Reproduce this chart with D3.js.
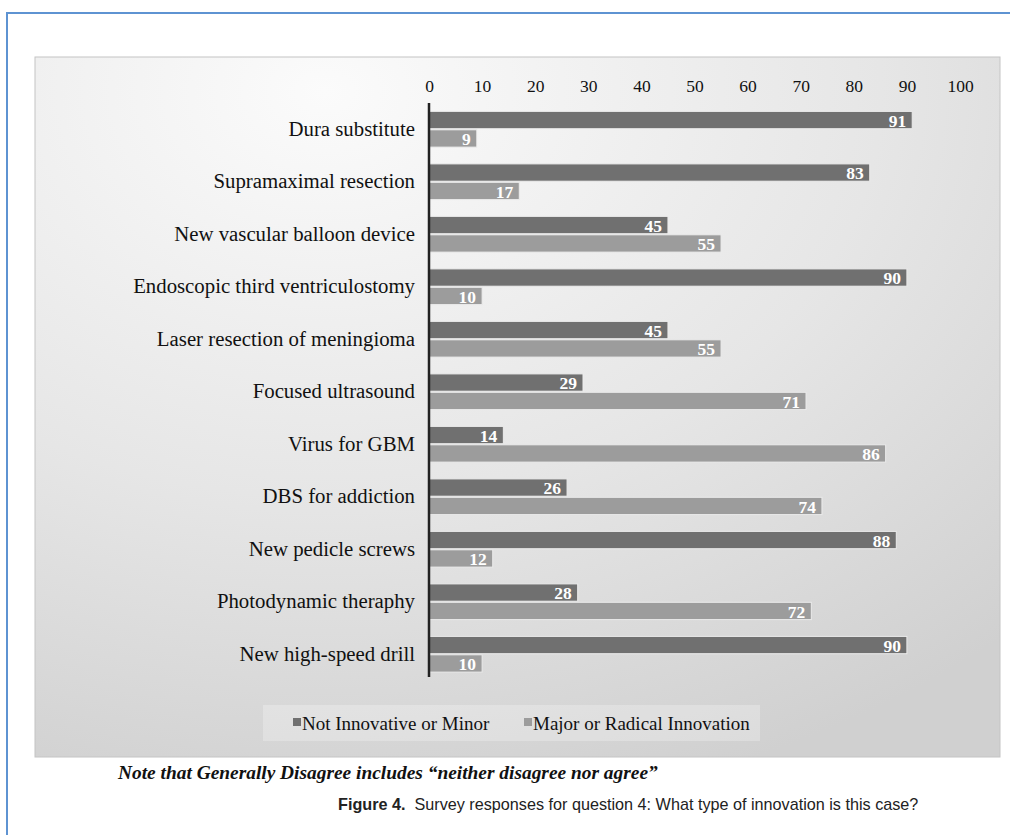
<!DOCTYPE html>
<html>
<head>
<meta charset="utf-8">
<script src="https://cdn.jsdelivr.net/npm/d3@7"></script>
<style>
  body { margin: 0; background: #fff; }
  svg { display: block; }
</style>
</head>
<body>
<svg id="chart" width="1010" height="835"></svg>
<script>
// Chart data.
const categories = [
  'Dura substitute',
  'Supramaximal resection',
  'New vascular balloon device',
  'Endoscopic third ventriculostomy',
  'Laser resection of meningioma',
  'Focused ultrasound',
  'Virus for GBM',
  'DBS for addiction',
  'New pedicle screws',
  'Photodynamic theraphy',
  'New high-speed drill',
];
const notInnovative = [91, 83, 45, 90, 45, 29, 14, 26, 88, 28, 90];
const majorInnovation = [9, 17, 55, 10, 55, 71, 86, 74, 12, 72, 10];
const seriesNames = ['Not Innovative or Minor', 'Major or Radical Innovation'];
const xTicks = [0, 10, 20, 30, 40, 50, 60, 70, 80, 90, 100];

const SERIF = "'Liberation Serif', 'Times New Roman', serif";
const SANS = "'Liberation Sans', Arial, sans-serif";
const colours = ['#707070', '#9c9c9c'];

const svg = d3.select('#chart');

// Gradient for the grey panel background.
const defs = svg.append('defs');
const grad = defs.append('radialGradient')
  .attr('id', 'panel-bg')
  .attr('cx', 0.3).attr('cy', 0.05).attr('r', 1.05);
grad.append('stop').attr('offset', '0%').attr('stop-color', '#fbfbfb');
grad.append('stop').attr('offset', '55%').attr('stop-color', '#e6e6e6');
grad.append('stop').attr('offset', '100%').attr('stop-color', '#d0d0d0');

// Blue page frame (top and left only).
svg.append('line').attr('x1', 6).attr('x2', 1010).attr('y1', 13).attr('y2', 13)
  .attr('stroke', '#5e93d2').attr('stroke-width', 2);
svg.append('line').attr('x1', 7).attr('x2', 7).attr('y1', 12).attr('y2', 835)
  .attr('stroke', '#5e93d2').attr('stroke-width', 2);

// Panel.
const panel = { x: 35, y: 57, w: 965, h: 700 };
svg.append('rect')
  .attr('x', panel.x).attr('y', panel.y)
  .attr('width', panel.w).attr('height', panel.h)
  .attr('fill', 'url(#panel-bg)')
  .attr('stroke', '#c4c4c4');

// Scales.
const x = d3.scaleLinear().domain([0, 100]).range([429, 960]);
const y = d3.scaleBand().domain(categories).range([103, 680.5])
  .paddingInner(0.32).paddingOuter(0.16);
const ySub = d3.scaleBand().domain([0, 1]).range([0, y.bandwidth()]).paddingInner(0.06);

// Top axis: labels only.
const xAxis = svg.append('g')
  .attr('transform', 'translate(0,92)')
  .call(d3.axisTop(x).tickValues(xTicks).tickSize(0).tickPadding(0));
xAxis.select('.domain').remove();
xAxis.selectAll('text')
  .attr('font-family', SERIF).attr('font-size', 17.5).attr('fill', '#111');

// Category labels.
const yAxis = svg.append('g')
  .attr('transform', 'translate(415,0)')
  .call(d3.axisLeft(y).tickSize(0).tickPadding(0));
yAxis.select('.domain').remove();
yAxis.selectAll('text')
  .attr('font-family', SERIF).attr('font-size', 20.8).attr('fill', '#111');

// Bars.
const rows = categories.map((c, i) => ({ c, vals: [notInnovative[i], majorInnovation[i]] }));
const groups = svg.append('g').selectAll('g')
  .data(rows)
  .join('g')
  .attr('transform', (d) => `translate(0,${y(d.c)})`);

const bars = groups.selectAll('g')
  .data((d) => d.vals.map((v, s) => ({ v, s })))
  .join('g');

bars.append('rect')
  .attr('x', x(0))
  .attr('y', (d) => ySub(d.s))
  .attr('width', (d) => x(d.v) - x(0))
  .attr('height', ySub.bandwidth())
  .attr('fill', (d) => colours[d.s])
  .attr('stroke', '#ececec')
  .attr('stroke-width', 1);

bars.append('text')
  .attr('x', (d) => x(d.v) - 6)
  .attr('y', (d) => ySub(d.s) + ySub.bandwidth() / 2)
  .attr('dy', '0.38em')
  .attr('text-anchor', 'end')
  .attr('font-family', SERIF)
  .attr('font-weight', 'bold')
  .attr('font-size', 17.5)
  .attr('fill', '#fff')
  .text((d) => d.v);

// Vertical axis line.
svg.append('line')
  .attr('x1', x(0)).attr('x2', x(0))
  .attr('y1', 103).attr('y2', 677)
  .attr('stroke', '#222').attr('stroke-width', 2.5);

// Legend.
const legend = svg.append('g');
legend.append('rect')
  .attr('x', 263).attr('y', 705).attr('width', 497).attr('height', 36)
  .attr('fill', '#ffffff').attr('fill-opacity', 0.25);
const legendX = [293, 524];
seriesNames.forEach((name, i) => {
  legend.append('rect')
    .attr('x', legendX[i]).attr('y', 718).attr('width', 8).attr('height', 8)
    .attr('fill', colours[i]);
  legend.append('text')
    .attr('x', legendX[i] + 9).attr('y', 730)
    .attr('font-family', SERIF).attr('font-size', 19).attr('fill', '#111')
    .text(name);
});

// Note and caption below the panel.
svg.append('text')
  .attr('x', 118).attr('y', 779)
  .attr('font-family', SERIF).attr('font-size', 19.4)
  .attr('font-style', 'italic').attr('font-weight', 'bold').attr('fill', '#111')
  .text('Note that Generally Disagree includes \u201cneither disagree nor agree\u201d');

const caption = svg.append('text')
  .attr('x', 338).attr('y', 810)
  .attr('font-family', SANS).attr('font-size', 16.2).attr('fill', '#222');
caption.append('tspan').attr('font-weight', 'bold').text('Figure 4.');
caption.append('tspan').attr('xml:space', 'preserve').text('  Survey responses for question 4: What type of innovation is this case?');
</script>
</body>
</html>
